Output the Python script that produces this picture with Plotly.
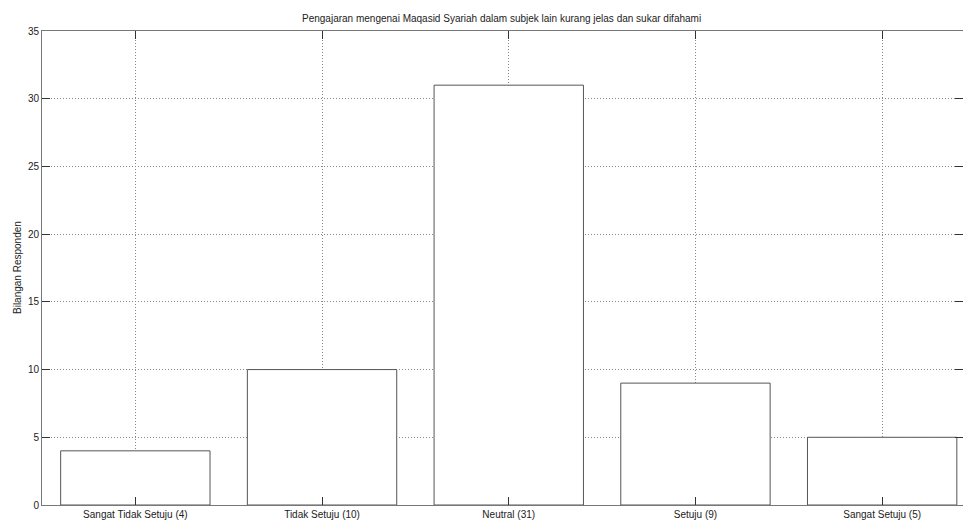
import plotly.graph_objects as go

categories = ["Sangat Tidak Setuju (4)", "Tidak Setuju (10)", "Neutral (31)", "Setuju (9)", "Sangat Setuju (5)"]
positions = [1, 2, 3, 4, 5]
values = [4, 10, 31, 9, 5]
y_ticks = [0, 5, 10, 15, 20, 25, 30, 35]
title_text = "Pengajaran mengenai Maqasid Syariah dalam subjek lain kurang jelas dan sukar difahami"
y_label = "Bilangan Responden"

fig = go.Figure()
fig.add_trace(go.Bar(
    x=positions, y=values, width=0.8,
    marker=dict(color="white", line=dict(color="#555555", width=1)),
    showlegend=False, hoverinfo="skip",
))

font = dict(family="Liberation Sans, Arial, sans-serif", size=10, color="#222222")

L, T, B, W, H = 42, 31, 15, 963, 520
plot_h = H - T - B
plot_w = W - L

fig.update_layout(
    width=W, height=H,
    margin=dict(l=L, r=0, t=T, b=B),
    paper_bgcolor="white", plot_bgcolor="white",
    font=font,
    xaxis=dict(
        range=[0.5, 5.433],
        tickmode="array", tickvals=positions, ticktext=categories,
        ticks="inside", ticklen=8, tickcolor="#333333",
        showline=True, linecolor="#777777", linewidth=1, mirror="ticks",
        showgrid=True, gridcolor="#888888", griddash="1px,2px", gridwidth=1,
        zeroline=False, tickfont=font,
    ),
    yaxis=dict(
        range=[0, 35],
        tickmode="array", tickvals=y_ticks,
        ticks="inside", ticklen=8, tickcolor="#333333",
        showline=True, linecolor="#777777", linewidth=1, mirror="ticks",
        showgrid=True, gridcolor="#888888", griddash="1px,2px", gridwidth=1,
        zeroline=False, tickfont=font,
    ),
    annotations=[
        dict(text=title_text, x=(501 - L) / plot_w, y=1 + (T - 18) / plot_h,
             xref="paper", yref="paper", yanchor="middle",
             showarrow=False, font=font),
        dict(text=y_label, x=(17 - L) / plot_w, y=0.5, xref="paper", yref="paper",
             xanchor="center", textangle=-90, showarrow=False, font=font),
    ],
)

fig.write_html("out.html", config={"displayModeBar": False},
               post_script="document.body.style.margin='0';document.body.style.overflow='hidden';")
